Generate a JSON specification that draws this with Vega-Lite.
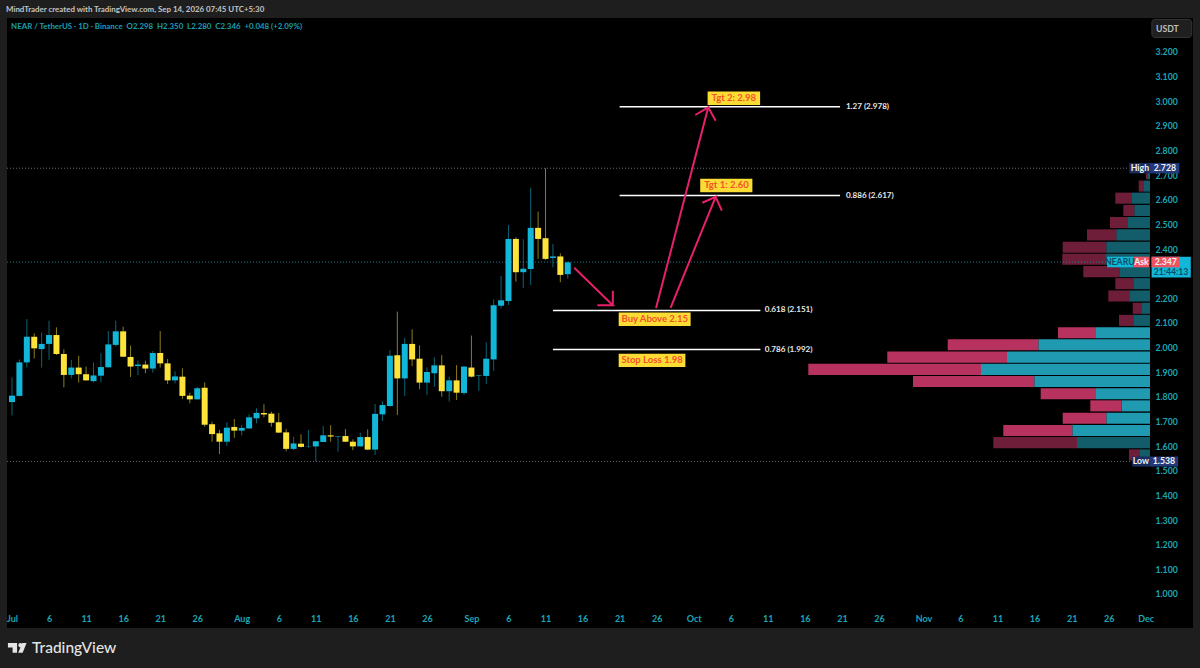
{
"$schema":"https://vega.github.io/schema/vega-lite/v6.json",
"width":1186,"height":610,
"autosize":{"type":"none"},
"padding":{"left":7,"top":18,"right":7,"bottom":40},
"background":"#1e1e1e",
"view":{"fill":"#000000","stroke":null},
"config":{"font":"Lato"},
"title":{"text":"MindTrader created with TradingView.com, Sep 14, 2026 07:45 UTC+5:30","anchor":"start","frame":"group","dx":-1,"offset":4,"fontSize":7.9,"fontWeight":700,"color":"#c4c4c4","font":"Lato"},
"datasets":{
"volume":[
{"top":2.728,"bottom":2.683,"buy":2,"total":4,"zone":"outside"},
{"top":2.678,"bottom":2.633,"buy":6,"total":11.3,"zone":"outside"},
{"top":2.629,"bottom":2.584,"buy":18,"total":34.7,"zone":"outside"},
{"top":2.579,"bottom":2.534,"buy":15.7,"total":26.7,"zone":"outside"},
{"top":2.530,"bottom":2.485,"buy":22,"total":40,"zone":"outside"},
{"top":2.480,"bottom":2.435,"buy":33.7,"total":63,"zone":"outside"},
{"top":2.430,"bottom":2.385,"buy":43.7,"total":87.3,"zone":"outside"},
{"top":2.381,"bottom":2.336,"buy":44.7,"total":87.7,"zone":"outside"},
{"top":2.331,"bottom":2.286,"buy":30.7,"total":66.7,"zone":"outside"},
{"top":2.282,"bottom":2.237,"buy":16,"total":34.7,"zone":"outside"},
{"top":2.232,"bottom":2.187,"buy":20.7,"total":41.7,"zone":"outside"},
{"top":2.182,"bottom":2.137,"buy":8.7,"total":17.3,"zone":"outside"},
{"top":2.133,"bottom":2.088,"buy":16,"total":31,"zone":"outside"},
{"top":2.083,"bottom":2.038,"buy":54,"total":92,"zone":"value area"},
{"top":2.034,"bottom":1.989,"buy":111.7,"total":202.3,"zone":"value area"},
{"top":1.984,"bottom":1.939,"buy":143,"total":262.7,"zone":"value area"},
{"top":1.934,"bottom":1.889,"buy":169,"total":341.7,"zone":"value area"},
{"top":1.885,"bottom":1.840,"buy":115.7,"total":237,"zone":"value area"},
{"top":1.835,"bottom":1.790,"buy":54,"total":109.3,"zone":"value area"},
{"top":1.786,"bottom":1.741,"buy":28.3,"total":59.7,"zone":"value area"},
{"top":1.736,"bottom":1.691,"buy":43.7,"total":87.3,"zone":"value area"},
{"top":1.686,"bottom":1.641,"buy":77.7,"total":146.7,"zone":"value area"},
{"top":1.637,"bottom":1.592,"buy":73,"total":156.7,"zone":"outside"},
{"top":1.587,"bottom":1.542,"buy":10.7,"total":21,"zone":"outside"}
],
"candles":[
{"date":"2026-07-01","open":1.779,"high":1.879,"low":1.725,"close":1.805,"dir":"up"},
{"date":"2026-07-02","open":1.804,"high":1.952,"low":1.802,"close":1.940,"dir":"up"},
{"date":"2026-07-03","open":1.940,"high":2.116,"low":1.919,"close":2.044,"dir":"up"},
{"date":"2026-07-04","open":2.044,"high":2.058,"low":1.956,"close":1.997,"dir":"down"},
{"date":"2026-07-05","open":1.994,"high":2.062,"low":1.919,"close":2.015,"dir":"up"},
{"date":"2026-07-06","open":2.015,"high":2.109,"low":1.950,"close":2.051,"dir":"up"},
{"date":"2026-07-07","open":2.051,"high":2.082,"low":1.970,"close":1.974,"dir":"down"},
{"date":"2026-07-08","open":1.974,"high":1.993,"low":1.839,"close":1.889,"dir":"down"},
{"date":"2026-07-09","open":1.889,"high":1.950,"low":1.875,"close":1.919,"dir":"up"},
{"date":"2026-07-10","open":1.919,"high":1.967,"low":1.858,"close":1.892,"dir":"down"},
{"date":"2026-07-11","open":1.892,"high":1.923,"low":1.866,"close":1.867,"dir":"down"},
{"date":"2026-07-12","open":1.864,"high":1.939,"low":1.859,"close":1.887,"dir":"up"},
{"date":"2026-07-13","open":1.886,"high":1.977,"low":1.859,"close":1.921,"dir":"up"},
{"date":"2026-07-14","open":1.920,"high":2.067,"low":1.919,"close":2.013,"dir":"up"},
{"date":"2026-07-15","open":2.011,"high":2.109,"low":2.004,"close":2.066,"dir":"up"},
{"date":"2026-07-16","open":2.066,"high":2.085,"low":1.961,"close":1.963,"dir":"down"},
{"date":"2026-07-17","open":1.962,"high":2.008,"low":1.881,"close":1.923,"dir":"down"},
{"date":"2026-07-18","open":1.925,"high":1.947,"low":1.889,"close":1.931,"dir":"up"},
{"date":"2026-07-19","open":1.931,"high":1.947,"low":1.896,"close":1.915,"dir":"down"},
{"date":"2026-07-20","open":1.915,"high":1.986,"low":1.898,"close":1.978,"dir":"up"},
{"date":"2026-07-21","open":1.978,"high":2.067,"low":1.919,"close":1.936,"dir":"down"},
{"date":"2026-07-22","open":1.936,"high":1.954,"low":1.852,"close":1.867,"dir":"down"},
{"date":"2026-07-23","open":1.867,"high":1.904,"low":1.855,"close":1.883,"dir":"up"},
{"date":"2026-07-24","open":1.882,"high":1.916,"low":1.791,"close":1.804,"dir":"down"},
{"date":"2026-07-25","open":1.805,"high":1.817,"low":1.774,"close":1.790,"dir":"down"},
{"date":"2026-07-26","open":1.790,"high":1.841,"low":1.790,"close":1.835,"dir":"up"},
{"date":"2026-07-27","open":1.837,"high":1.859,"low":1.679,"close":1.687,"dir":"down"},
{"date":"2026-07-28","open":1.689,"high":1.699,"low":1.618,"close":1.649,"dir":"down"},
{"date":"2026-07-29","open":1.652,"high":1.666,"low":1.568,"close":1.618,"dir":"down"},
{"date":"2026-07-30","open":1.618,"high":1.697,"low":1.602,"close":1.675,"dir":"up"},
{"date":"2026-07-31","open":1.678,"high":1.710,"low":1.634,"close":1.663,"dir":"down"},
{"date":"2026-08-01","open":1.663,"high":1.686,"low":1.644,"close":1.674,"dir":"up"},
{"date":"2026-08-02","open":1.672,"high":1.729,"low":1.671,"close":1.717,"dir":"up"},
{"date":"2026-08-03","open":1.713,"high":1.754,"low":1.693,"close":1.735,"dir":"up"},
{"date":"2026-08-04","open":1.735,"high":1.770,"low":1.717,"close":1.729,"dir":"down"},
{"date":"2026-08-05","open":1.732,"high":1.740,"low":1.679,"close":1.695,"dir":"down"},
{"date":"2026-08-06","open":1.697,"high":1.735,"low":1.653,"close":1.655,"dir":"down"},
{"date":"2026-08-07","open":1.656,"high":1.670,"low":1.579,"close":1.589,"dir":"down"},
{"date":"2026-08-08","open":1.589,"high":1.639,"low":1.584,"close":1.611,"dir":"up"},
{"date":"2026-08-09","open":1.610,"high":1.648,"low":1.594,"close":1.597,"dir":"down"},
{"date":"2026-08-10","open":1.598,"high":1.666,"low":1.594,"close":1.599,"dir":"up"},
{"date":"2026-08-11","open":1.599,"high":1.621,"low":1.538,"close":1.620,"dir":"up"},
{"date":"2026-08-12","open":1.617,"high":1.682,"low":1.617,"close":1.644,"dir":"up"},
{"date":"2026-08-13","open":1.644,"high":1.685,"low":1.618,"close":1.639,"dir":"down"},
{"date":"2026-08-14","open":1.639,"high":1.641,"low":1.578,"close":1.641,"dir":"up"},
{"date":"2026-08-15","open":1.641,"high":1.670,"low":1.618,"close":1.618,"dir":"down"},
{"date":"2026-08-16","open":1.618,"high":1.628,"low":1.584,"close":1.599,"dir":"down"},
{"date":"2026-08-17","open":1.599,"high":1.655,"low":1.598,"close":1.637,"dir":"up"},
{"date":"2026-08-18","open":1.637,"high":1.668,"low":1.584,"close":1.586,"dir":"down"},
{"date":"2026-08-19","open":1.586,"high":1.771,"low":1.564,"close":1.731,"dir":"up"},
{"date":"2026-08-20","open":1.729,"high":1.782,"low":1.702,"close":1.767,"dir":"up"},
{"date":"2026-08-21","open":1.763,"high":1.990,"low":1.760,"close":1.967,"dir":"up"},
{"date":"2026-08-22","open":1.969,"high":2.146,"low":1.726,"close":1.875,"dir":"down"},
{"date":"2026-08-23","open":1.875,"high":2.040,"low":1.804,"close":2.015,"dir":"up"},
{"date":"2026-08-24","open":2.015,"high":2.074,"low":1.925,"close":1.952,"dir":"down"},
{"date":"2026-08-25","open":1.955,"high":2.009,"low":1.831,"close":1.858,"dir":"down"},
{"date":"2026-08-26","open":1.858,"high":1.920,"low":1.808,"close":1.901,"dir":"up"},
{"date":"2026-08-27","open":1.896,"high":1.961,"low":1.841,"close":1.928,"dir":"up"},
{"date":"2026-08-28","open":1.928,"high":1.969,"low":1.801,"close":1.823,"dir":"down"},
{"date":"2026-08-29","open":1.823,"high":1.882,"low":1.781,"close":1.867,"dir":"up"},
{"date":"2026-08-30","open":1.867,"high":1.929,"low":1.787,"close":1.817,"dir":"down"},
{"date":"2026-08-31","open":1.816,"high":1.925,"low":1.808,"close":1.923,"dir":"up"},
{"date":"2026-09-01","open":1.919,"high":2.049,"low":1.879,"close":1.882,"dir":"down"},
{"date":"2026-09-02","open":1.885,"high":1.889,"low":1.825,"close":1.887,"dir":"up"},
{"date":"2026-09-03","open":1.885,"high":2.021,"low":1.852,"close":1.955,"dir":"up"},
{"date":"2026-09-04","open":1.952,"high":2.196,"low":1.905,"close":2.172,"dir":"up"},
{"date":"2026-09-05","open":2.170,"high":2.291,"low":2.159,"close":2.192,"dir":"up"},
{"date":"2026-09-06","open":2.189,"high":2.498,"low":2.173,"close":2.441,"dir":"up"},
{"date":"2026-09-07","open":2.441,"high":2.448,"low":2.268,"close":2.306,"dir":"down"},
{"date":"2026-09-08","open":2.306,"high":2.440,"low":2.242,"close":2.320,"dir":"up"},
{"date":"2026-09-09","open":2.319,"high":2.649,"low":2.254,"close":2.486,"dir":"up"},
{"date":"2026-09-10","open":2.486,"high":2.552,"low":2.360,"close":2.441,"dir":"down"},
{"date":"2026-09-11","open":2.444,"high":2.728,"low":2.356,"close":2.360,"dir":"down"},
{"date":"2026-09-12","open":2.364,"high":2.421,"low":2.326,"close":2.370,"dir":"up"},
{"date":"2026-09-13","open":2.370,"high":2.383,"low":2.265,"close":2.295,"dir":"down"},
{"date":"2026-09-14","open":2.298,"high":2.350,"low":2.280,"close":2.346,"dir":"up"}
],
"levels":[
{"level":"High","date":"2026-06-30T08:00:00Z","date2":"2026-11-28T19:00:00Z","price":2.728},
{"level":"Low","date":"2026-06-30T08:00:00Z","date2":"2026-11-29T04:00:00Z","price":1.538},
{"level":"Last","date":"2026-06-30T08:00:00Z","date2":"2026-11-25T21:00:00Z","price":2.347}
],
"fib":[
{"label":"1.27 (2.978)","date":"2026-09-21","date2":"2026-10-20T18:00:00Z","labelDate":"2026-10-21T13:00:00Z","price":2.978},
{"label":"0.886 (2.617)","date":"2026-09-21","date2":"2026-10-20T18:00:00Z","labelDate":"2026-10-21T13:00:00Z","price":2.617},
{"label":"0.618 (2.151)","date":"2026-09-12","date2":"2026-10-10","labelDate":"2026-10-10T14:00:00Z","price":2.151},
{"label":"0.786 (1.992)","date":"2026-09-12","date2":"2026-10-10","labelDate":"2026-10-10T14:00:00Z","price":1.992}
],
"arrows":[
{"arrow":"a","seq":1,"date":"2026-09-14T21:00:00Z","price":2.324},
{"arrow":"a","seq":2,"date":"2026-09-20T02:00:00Z","price":2.172},
{"arrow":"a","seq":3,"date":"2026-09-18T00:00:00Z","price":2.172},
{"arrow":"a","seq":4,"date":"2026-09-20T02:00:00Z","price":2.172},
{"arrow":"a","seq":5,"date":"2026-09-20T02:00:00Z","price":2.231},
{"arrow":"b","seq":1,"date":"2026-09-25T22:00:00Z","price":2.161},
{"arrow":"b","seq":2,"date":"2026-10-02T23:00:00Z","price":2.975},
{"arrow":"b","seq":3,"date":"2026-10-01T05:00:00Z","price":2.944},
{"arrow":"b","seq":4,"date":"2026-10-02T23:00:00Z","price":2.975},
{"arrow":"b","seq":5,"date":"2026-10-03T23:00:00Z","price":2.921},
{"arrow":"c","seq":1,"date":"2026-09-27T21:00:00Z","price":2.161},
{"arrow":"c","seq":2,"date":"2026-10-03T23:00:00Z","price":2.612},
{"arrow":"c","seq":3,"date":"2026-10-02T04:00:00Z","price":2.588},
{"arrow":"c","seq":4,"date":"2026-10-03T23:00:00Z","price":2.612},
{"arrow":"c","seq":5,"date":"2026-10-04T19:00:00Z","price":2.556}
],
"notes":[
{"label":"Tgt 2: 2.98","date":"2026-10-02T21:00:00Z","date2":"2026-10-09T23:00:00Z","midDate":"2026-10-06T10:00:00Z","price":3.039,"price2":2.985,"midPrice":3.012},
{"label":"Tgt 1: 2.60","date":"2026-10-01T21:00:00Z","date2":"2026-10-08T22:00:00Z","midDate":"2026-10-05T10:00:00Z","price":2.685,"price2":2.630,"midPrice":2.658},
{"label":"Buy Above 2.15","date":"2026-09-20T21:00:00Z","date2":"2026-09-30T14:00:00Z","midDate":"2026-09-25T18:00:00Z","price":2.142,"price2":2.088,"midPrice":2.115},
{"label":"Stop Loss 1.98","date":"2026-09-20T21:00:00Z","date2":"2026-09-29T21:00:00Z","midDate":"2026-09-25T09:00:00Z","price":1.975,"price2":1.921,"midPrice":1.948}
],
"tags":[
{"part":"highName","date":"2026-11-28T19:00:00Z","date2":"2026-12-01T14:00:00Z","price":2.749,"price2":2.707},
{"part":"highValue","date":"2026-12-01T14:00:00Z","date2":"2026-12-05T13:00:00Z","price":2.749,"price2":2.707},
{"part":"lowName","date":"2026-11-29T04:00:00Z","date2":"2026-12-01T14:00:00Z","price":1.558,"price2":1.517},
{"part":"lowValue","date":"2026-12-01T14:00:00Z","date2":"2026-12-05T09:00:00Z","price":1.558,"price2":1.517},
{"part":"symbol","date":"2026-11-25T19:00:00Z","date2":"2026-11-29T09:00:00Z","price":2.369,"price2":2.326},
{"part":"countdown","date":"2026-12-01T19:00:00Z","date2":"2026-12-07T02:00:00Z","price":2.369,"price2":2.285},
{"part":"ask","date":"2026-11-29T09:00:00Z","date2":"2026-12-01T11:00:00Z","price":2.369,"price2":2.326},
{"part":"askValue","date":"2026-12-01T19:00:00Z","date2":"2026-12-05T15:00:00Z","price":2.369,"price2":2.326}
],
"tagText":[
{"label":"High","date":"2026-11-30T05:00:00Z","price":2.728,"tone":"light"},
{"label":"2.728","date":"2026-12-03T14:00:00Z","price":2.728,"tone":"light"},
{"label":"Low","date":"2026-11-30T08:00:00Z","price":1.538,"tone":"light"},
{"label":"1.538","date":"2026-12-03T11:00:00Z","price":1.538,"tone":"light"},
{"label":"NEARU","date":"2026-11-27T12:00:00Z","price":2.347,"tone":"dark"},
{"label":"Ask","date":"2026-11-30T10:00:00Z","price":2.347,"tone":"light"},
{"label":"2.347","date":"2026-12-03T17:00:00Z","price":2.347,"tone":"light"},
{"label":"21:44:13","date":"2026-12-04T10:00:00Z","price":2.305,"tone":"dark"}
],
"frameBox":[
{"label":"USDT","date":"2026-12-01T20:00:00Z","date2":"2026-12-07T05:00:00Z","midDate":"2026-12-03T22:00:00Z","price":3.332,"price2":3.259,"midPrice":3.295}
],
"legend":[
{"label":"NEAR / TetherUS · 1D · Binance\u00a0\u00a0O2.298\u00a0\u00a0H2.350\u00a0\u00a0L2.280\u00a0\u00a0C2.346\u00a0\u00a0+0.048 (+2.09%)","date":"2026-06-30T21:00:00Z","price":3.301}
],
"brand":[
{"label":"TradingView","logoDate":"2026-07-01T17:00:00Z","date":"2026-07-03T17:00:00Z","price":0.781}
]
},
"layer":[
{
"data":{"name":"volume"},
"layer":[
{"mark":{"type":"rect"},
"encoding":{
"x":{"field":"buy","type":"quantitative","axis":null,"scale":{"domain":[0,1143],"range":[1143,0]}},
"x2":{"datum":0},
"y":{"field":"top","type":"quantitative","axis":null,"scale":{"domain":[0.862,3.3377]}},
"y2":{"field":"bottom"},
"opacity":{"field":"zone","type":"nominal","legend":null,"scale":{"domain":["value area","outside"],"range":[1,0.6]}},
"color":{"value":"#1f9ab0"}}},
{"mark":{"type":"rect"},
"encoding":{
"x":{"field":"total","type":"quantitative","axis":null,"scale":{"domain":[0,1143],"range":[1143,0]}},
"x2":{"field":"buy"},
"y":{"field":"top","type":"quantitative","axis":null,"scale":{"domain":[0.862,3.3377]}},
"y2":{"field":"bottom"},
"opacity":{"field":"zone","type":"nominal","legend":null,"scale":{"domain":["value area","outside"],"range":[1,0.6]}},
"color":{"value":"#b8325f"}}}
]
},
{
"resolve":{"scale":{"color":"independent"},"axis":{"x":"independent","y":"independent"}},
"layer":[
{"data":{"name":"levels"},
"mark":{"type":"rule","strokeDash":[1,2],"strokeWidth":1},
"encoding":{
"x":{"field":"date","type":"temporal","scale":{"type":"utc","padding":0,"domain":[1782805680000,1796634432000]},
"axis":{"orient":"bottom","offset":-14,"values":[1782864000000,1783296000000,1783728000000,1784160000000,1784592000000,1785024000000,1785542400000,1785974400000,1786406400000,1786838400000,1787270400000,1787702400000,1788220800000,1788652800000,1789084800000,1789516800000,1789948800000,1790380800000,1790812800000,1791244800000,1791676800000,1792108800000,1792540800000,1792972800000,1793491200000,1793923200000,1794355200000,1794787200000,1795219200000,1795651200000,1796083200000],
"labelExpr":"utcdate(datum.value)===1 ? utcFormat(datum.value,'%b') : utcFormat(datum.value,'%-d')",
"title":null,"domain":false,"ticks":false,"tickSize":0,"grid":false,"labelPadding":0,"labelOverlap":false,"labelFlush":false,"labelBound":false,"labelColor":"#1aa7b8","labelFont":"Lato","labelFontSize":9,"labelFontWeight":700,"labelBaseline":"top"}},
"x2":{"field":"date2"},
"y":{"field":"price","type":"quantitative","scale":{"domain":[0.862,3.3377]},
"axis":{"orient":"right","offset":-38,"values":[1.0,1.1,1.2,1.3,1.4,1.5,1.6,1.7,1.8,1.9,2.0,2.1,2.2,2.4,2.5,2.6,2.7,2.8,2.9,3.0,3.1,3.2],"format":".3f","title":null,"domain":false,"ticks":false,"tickSize":0,"grid":false,"labelPadding":0,"labelOverlap":false,"labelFlush":false,"labelBound":false,"labelColor":"#1aa7b8","labelFont":"Lato","labelFontSize":8.7,"labelFontWeight":700}},
"color":{"field":"level","type":"nominal","legend":null,"scale":{"domain":["High","Low","Last"],"range":["#6e6e6e","#6e6e6e","#1a8192"]}}}},
{"data":{"name":"candles"},
"mark":{"type":"rule","strokeWidth":1,"opacity":0.55},
"encoding":{
"x":{"field":"date","type":"temporal","axis":null,"scale":{"type":"utc","padding":0,"domain":[1782805680000,1796634432000]}},
"y":{"field":"low","type":"quantitative","axis":null,"scale":{"domain":[0.862,3.3377]}},
"y2":{"field":"high"},
"color":{"field":"dir","type":"nominal","legend":null,"scale":{"domain":["up","down"],"range":["#12b6d8","#fde33a"]}}}},
{"data":{"name":"candles"},
"mark":{"type":"bar","size":6},
"encoding":{
"x":{"field":"date","type":"temporal","axis":null,"scale":{"type":"utc","padding":0,"domain":[1782805680000,1796634432000]}},
"y":{"field":"open","type":"quantitative","axis":null,"scale":{"domain":[0.862,3.3377]}},
"y2":{"field":"close"},
"color":{"field":"dir","type":"nominal","legend":null,"scale":{"domain":["up","down"],"range":["#12b6d8","#fde33a"]}}}},
{"data":{"name":"fib"},
"mark":{"type":"rule","strokeWidth":1.5,"color":"#ffffff"},
"encoding":{
"x":{"field":"date","type":"temporal","axis":null,"scale":{"type":"utc","padding":0,"domain":[1782805680000,1796634432000]}},
"x2":{"field":"date2"},
"y":{"field":"price","type":"quantitative","axis":null,"scale":{"domain":[0.862,3.3377]}}}},
{"data":{"name":"fib"},
"mark":{"type":"text","align":"left","baseline":"middle","fontSize":8.1,"fontWeight":700,"color":"#e8e8e8","font":"Lato"},
"encoding":{
"x":{"field":"labelDate","type":"temporal","axis":null,"scale":{"type":"utc","padding":0,"domain":[1782805680000,1796634432000]}},
"y":{"field":"price","type":"quantitative","axis":null,"scale":{"domain":[0.862,3.3377]}},
"text":{"field":"label"}}},
{"data":{"name":"arrows"},
"mark":{"type":"line","strokeWidth":2,"color":"#e6206b","strokeJoin":"miter"},
"encoding":{
"x":{"field":"date","type":"temporal","axis":null,"scale":{"type":"utc","padding":0,"domain":[1782805680000,1796634432000]}},
"y":{"field":"price","type":"quantitative","axis":null,"scale":{"domain":[0.862,3.3377]}},
"detail":{"field":"arrow"},
"order":{"field":"seq"}}},
{"data":{"name":"notes"},
"mark":{"type":"rect","color":"#fbdc34"},
"encoding":{
"x":{"field":"date","type":"temporal","axis":null,"scale":{"type":"utc","padding":0,"domain":[1782805680000,1796634432000]}},
"x2":{"field":"date2"},
"y":{"field":"price","type":"quantitative","axis":null,"scale":{"domain":[0.862,3.3377]}},
"y2":{"field":"price2"}}},
{"data":{"name":"notes"},
"mark":{"type":"text","align":"center","baseline":"middle","fontSize":9.5,"fontWeight":700,"color":"#f2522a","font":"Lato"},
"encoding":{
"x":{"field":"midDate","type":"temporal","axis":null,"scale":{"type":"utc","padding":0,"domain":[1782805680000,1796634432000]}},
"y":{"field":"midPrice","type":"quantitative","axis":null,"scale":{"domain":[0.862,3.3377]}},
"text":{"field":"label"}}},
{"data":{"name":"tags"},
"mark":{"type":"rect"},
"encoding":{
"x":{"field":"date","type":"temporal","axis":null,"scale":{"type":"utc","padding":0,"domain":[1782805680000,1796634432000]}},
"x2":{"field":"date2"},
"y":{"field":"price","type":"quantitative","axis":null,"scale":{"domain":[0.862,3.3377]}},
"y2":{"field":"price2"},
"color":{"field":"part","type":"nominal","legend":null,"scale":{"domain":["highName","highValue","lowName","lowValue","symbol","countdown","ask","askValue"],"range":["#1b2d5e","#23397a","#1b2d5e","#23397a","#12b6d8","#12b6d8","#f0525f","#f0525f"]}}}},
{"data":{"name":"tagText"},
"mark":{"type":"text","align":"center","baseline":"middle","fontSize":8.7,"fontWeight":700,"font":"Lato"},
"encoding":{
"x":{"field":"date","type":"temporal","axis":null,"scale":{"type":"utc","padding":0,"domain":[1782805680000,1796634432000]}},
"y":{"field":"price","type":"quantitative","axis":null,"scale":{"domain":[0.862,3.3377]}},
"text":{"field":"label"},
"color":{"field":"tone","type":"nominal","legend":null,"scale":{"domain":["light","dark"],"range":["#f2f2f2","#0a4d63"]}}}},
{"data":{"name":"frameBox"},
"mark":{"type":"rect","fill":"#1f1f1f","stroke":"#383838","strokeWidth":1,"cornerRadius":3},
"encoding":{
"x":{"field":"date","type":"temporal","axis":null,"scale":{"type":"utc","padding":0,"domain":[1782805680000,1796634432000]}},
"x2":{"field":"date2"},
"y":{"field":"price","type":"quantitative","axis":null,"scale":{"domain":[0.862,3.3377]}},
"y2":{"field":"price2"}}},
{"data":{"name":"frameBox"},
"mark":{"type":"text","align":"center","baseline":"middle","fontSize":8.7,"fontWeight":700,"color":"#bdbdbd","font":"Lato"},
"encoding":{
"x":{"field":"midDate","type":"temporal","axis":null,"scale":{"type":"utc","padding":0,"domain":[1782805680000,1796634432000]}},
"y":{"field":"midPrice","type":"quantitative","axis":null,"scale":{"domain":[0.862,3.3377]}},
"text":{"field":"label"}}},
{"data":{"name":"legend"},
"mark":{"type":"text","align":"left","baseline":"middle","fontSize":7.9,"fontWeight":700,"color":"#1a9fb0","font":"Lato"},
"encoding":{
"x":{"field":"date","type":"temporal","axis":null,"scale":{"type":"utc","padding":0,"domain":[1782805680000,1796634432000]}},
"y":{"field":"price","type":"quantitative","axis":null,"scale":{"domain":[0.862,3.3377]}},
"text":{"field":"label"}}},
{"data":{"name":"brand"},
"mark":{"type":"text","align":"left","baseline":"middle","fontSize":15.5,"fontWeight":500,"color":"#e4e4e4","font":"Lato"},
"encoding":{
"x":{"field":"date","type":"temporal","axis":null,"scale":{"type":"utc","padding":0,"domain":[1782805680000,1796634432000]}},
"y":{"field":"price","type":"quantitative","axis":null,"scale":{"domain":[0.862,3.3377]}},
"text":{"field":"label"}}},
{"data":{"name":"brand"},
"mark":{"type":"point","filled":true,"opacity":1,"size":348,"color":"#e4e4e4","shape":"M-1 -.54H-.02V.52H-.5V-.05H-1ZM.12 -.3a.22 .22 0 1 1 .44 0a.22 .22 0 1 1 -.44 0ZM.55 -.54H1L.58 .52H.1Z"},
"encoding":{
"x":{"field":"logoDate","type":"temporal","axis":null,"scale":{"type":"utc","padding":0,"domain":[1782805680000,1796634432000]}},
"y":{"field":"price","type":"quantitative","axis":null,"scale":{"domain":[0.862,3.3377]}}}}
]
}
],
"resolve":{"scale":{"x":"independent","color":"independent","opacity":"independent"},"axis":{"y":"independent"}}
}
